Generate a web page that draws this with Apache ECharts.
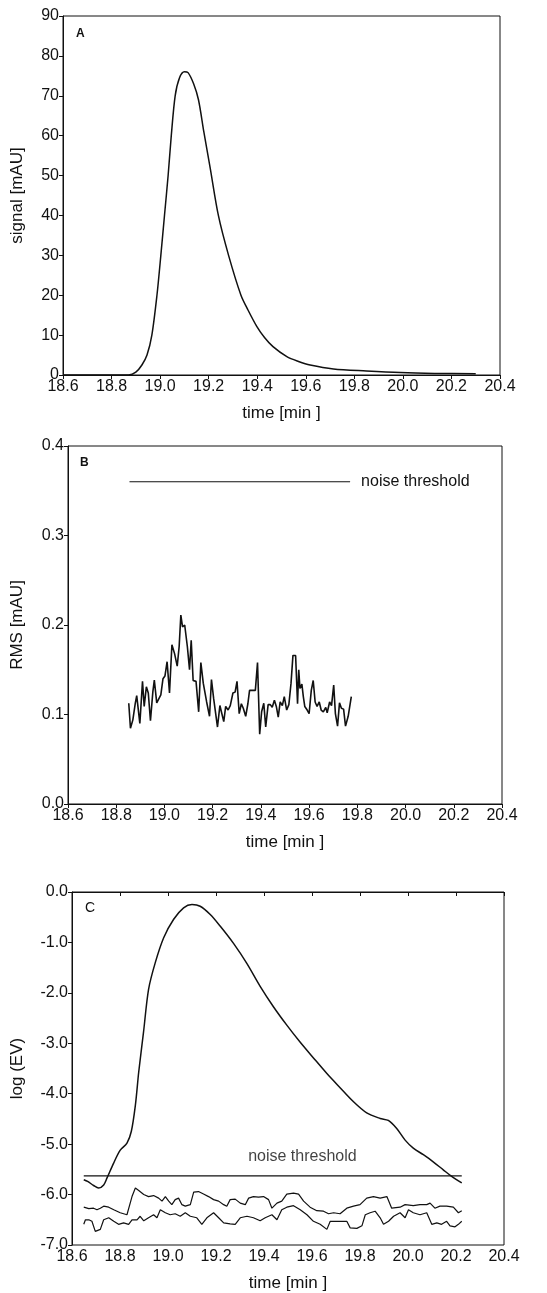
<!DOCTYPE html>
<html><head><meta charset="utf-8">
<script src="https://cdn.jsdelivr.net/npm/echarts@6/dist/echarts.min.js"></script>
<style>html,body{margin:0;padding:0;background:#fff}#c{width:547px;height:1293px}</style>
</head><body><div id="c"></div>
<script>
// ---- Panel A: signal [mAU] vs time [min]
const signalA = [[18.6,0],[18.87,0],[18.9,0.7],[18.925,2.5],[18.946,5],[18.966,10],[18.987,20],[19.003,30],[19.018,40],[19.033,50],[19.046,60],[19.062,70],[19.08,74.5],[19.1,76],[19.115,75.8],[19.138,73],[19.158,69],[19.18,61],[19.206,52],[19.24,40],[19.282,30],[19.333,20],[19.362,16.3],[19.398,12.2],[19.43,9.4],[19.465,7.1],[19.522,4.6],[19.57,3.4],[19.618,2.5],[19.714,1.5],[19.85,1.0],[19.99,0.6],[20.13,0.4],[20.3,0.3]];

// ---- Panel B: RMS [mAU]
const rmsB = [[18.852,0.1125],[18.859,0.0846],[18.869,0.094],[18.879,0.1125],[18.885,0.121],[18.892,0.119],[18.898,0.090],[18.909,0.137],[18.916,0.109],[18.925,0.131],[18.933,0.124],[18.942,0.093],[18.952,0.1255],[18.958,0.1385],[18.968,0.113],[18.976,0.1125],[18.985,0.122],[18.994,0.140],[19.002,0.143],[19.011,0.159],[19.021,0.124],[19.031,0.178],[19.042,0.168],[19.053,0.154],[19.061,0.176],[19.068,0.211],[19.075,0.198],[19.084,0.200],[19.095,0.176],[19.104,0.150],[19.111,0.183],[19.119,0.138],[19.131,0.137],[19.142,0.103],[19.151,0.158],[19.161,0.135],[19.175,0.114],[19.187,0.098],[19.195,0.139],[19.204,0.118],[19.212,0.117],[19.220,0.086],[19.230,0.110],[19.237,0.111],[19.246,0.092],[19.254,0.109],[19.264,0.105],[19.273,0.110],[19.284,0.124],[19.293,0.125],[19.301,0.137],[19.310,0.101],[19.319,0.112],[19.327,0.107],[19.337,0.098],[19.346,0.112],[19.353,0.127],[19.363,0.127],[19.377,0.127],[19.386,0.158],[19.395,0.078],[19.403,0.103],[19.412,0.1125],[19.420,0.086],[19.430,0.111],[19.439,0.111],[19.447,0.108],[19.456,0.116],[19.464,0.109],[19.472,0.097],[19.480,0.114],[19.489,0.110],[19.497,0.120],[19.507,0.105],[19.516,0.111],[19.525,0.135],[19.533,0.166],[19.544,0.166],[19.552,0.112],[19.557,0.150],[19.562,0.129],[19.570,0.134],[19.576,0.120],[19.582,0.109],[19.592,0.105],[19.600,0.101],[19.609,0.127],[19.617,0.138],[19.625,0.114],[19.633,0.109],[19.642,0.114],[19.650,0.105],[19.659,0.103],[19.669,0.108],[19.675,0.102],[19.685,0.114],[19.693,0.110],[19.702,0.133],[19.709,0.101],[19.718,0.087],[19.726,0.113],[19.734,0.107],[19.743,0.106],[19.751,0.087],[19.762,0.098],[19.775,0.120]];
const thresholdB = [[18.855,0.36],[19.77,0.36]];

// ---- Panel C: log (EV)
const logEV = [[18.649,-5.706],[18.665,-5.739],[18.69,-5.82],[18.711,-5.87],[18.732,-5.81],[18.746,-5.67],[18.773,-5.38],[18.801,-5.12],[18.829,-4.98],[18.847,-4.75],[18.864,-4.23],[18.878,-3.57],[18.898,-2.78],[18.919,-1.93],[18.947,-1.40],[18.982,-0.907],[19.023,-0.546],[19.065,-0.316],[19.1,-0.25],[19.134,-0.283],[19.176,-0.447],[19.218,-0.68],[19.273,-1.02],[19.329,-1.42],[19.384,-1.87],[19.44,-2.28],[19.495,-2.64],[19.551,-2.98],[19.606,-3.29],[19.662,-3.60],[19.717,-3.88],[19.771,-4.15],[19.828,-4.38],[19.884,-4.49],[19.918,-4.53],[19.953,-4.69],[19.988,-4.92],[20.022,-5.08],[20.064,-5.21],[20.105,-5.35],[20.147,-5.51],[20.182,-5.64],[20.224,-5.77]];
const noiseUpperC = [[18.649,-6.25],[18.670,-6.28],[18.690,-6.27],[18.704,-6.30],[18.718,-6.27],[18.732,-6.23],[18.753,-6.25],[18.774,-6.30],[18.801,-6.36],[18.829,-6.40],[18.850,-6.04],[18.864,-5.87],[18.878,-5.92],[18.899,-6.00],[18.919,-6.04],[18.940,-6.02],[18.961,-6.07],[18.975,-6.13],[18.989,-6.04],[19.003,-6.13],[19.016,-6.20],[19.030,-6.10],[19.044,-6.07],[19.058,-6.20],[19.072,-6.23],[19.093,-6.20],[19.107,-5.95],[19.127,-5.94],[19.148,-5.99],[19.169,-6.04],[19.190,-6.10],[19.211,-6.13],[19.232,-6.20],[19.245,-6.23],[19.259,-6.10],[19.280,-6.09],[19.301,-6.17],[19.322,-6.20],[19.336,-6.07],[19.356,-6.04],[19.377,-6.05],[19.398,-6.04],[19.419,-6.10],[19.433,-6.27],[19.454,-6.17],[19.474,-6.13],[19.495,-5.99],[19.523,-5.97],[19.544,-5.99],[19.565,-6.13],[19.592,-6.25],[19.620,-6.32],[19.648,-6.33],[19.669,-6.38],[19.690,-6.36],[19.717,-6.38],[19.745,-6.27],[19.773,-6.23],[19.800,-6.20],[19.828,-6.07],[19.856,-6.04],[19.884,-6.07],[19.912,-6.04],[19.932,-6.27],[19.967,-6.25],[19.988,-6.20],[20.022,-6.22],[20.050,-6.20],[20.078,-6.20],[20.092,-6.17],[20.112,-6.27],[20.133,-6.23],[20.161,-6.23],[20.189,-6.25],[20.210,-6.36],[20.224,-6.32]];
const noiseLowerC = [[18.649,-6.59],[18.656,-6.50],[18.670,-6.50],[18.683,-6.53],[18.697,-6.73],[18.718,-6.69],[18.732,-6.50],[18.753,-6.46],[18.774,-6.53],[18.794,-6.59],[18.815,-6.56],[18.836,-6.59],[18.850,-6.50],[18.871,-6.50],[18.884,-6.43],[18.899,-6.52],[18.919,-6.46],[18.940,-6.40],[18.954,-6.46],[18.968,-6.30],[18.989,-6.36],[19.009,-6.40],[19.030,-6.38],[19.051,-6.43],[19.072,-6.36],[19.093,-6.43],[19.120,-6.46],[19.141,-6.59],[19.162,-6.46],[19.190,-6.36],[19.211,-6.46],[19.232,-6.56],[19.259,-6.58],[19.280,-6.59],[19.301,-6.46],[19.329,-6.43],[19.356,-6.46],[19.384,-6.52],[19.405,-6.46],[19.433,-6.40],[19.454,-6.50],[19.474,-6.30],[19.495,-6.25],[19.523,-6.22],[19.551,-6.30],[19.579,-6.40],[19.606,-6.53],[19.634,-6.59],[19.662,-6.69],[19.676,-6.53],[19.704,-6.53],[19.745,-6.53],[19.759,-6.66],[19.787,-6.67],[19.808,-6.62],[19.822,-6.40],[19.842,-6.36],[19.863,-6.33],[19.884,-6.46],[19.898,-6.59],[19.919,-6.53],[19.940,-6.43],[19.967,-6.36],[19.988,-6.46],[20.002,-6.30],[20.022,-6.36],[20.050,-6.40],[20.078,-6.36],[20.099,-6.59],[20.120,-6.56],[20.140,-6.59],[20.161,-6.53],[20.175,-6.62],[20.196,-6.64],[20.210,-6.59],[20.224,-6.53]];
const thresholdC = [[18.649,-5.63],[20.224,-5.63]];
const thresholdLabelC = [[19.56,-5.25]];

const panelLabels = ['A','B','C'];
const xName = 'time [min ]';
const yNames = ['signal [mAU]','RMS [mAU]','log (EV)'];

const FONT = '"Liberation Sans", Arial, Helvetica, sans-serif';
const INK = '#111';

const grids = [
  {left:63, right:47, top:16, height:359},
  {left:68, right:45, top:446, height:358},
  {left:72, right:43, top:892, height:355}
].map(g => Object.assign(g, {show:true, borderColor:INK, borderWidth:1, backgroundColor:'transparent'}));

function xAxis(i){
  return {
    type:'value', gridIndex:i, min:18.6, max:20.4, interval:0.2,
    name:xName, nameLocation:'middle', nameGap:30,
    nameTextStyle:{fontFamily:FONT, fontSize:17, color:INK},
    axisLine:{show:true, lineStyle:{color:INK, width:1}},
    axisTick:{show:true, inside:false, length:4, lineStyle:{color:INK}},
    axisLabel:{fontFamily:FONT, fontSize:16, color:INK, margin:4, formatter:v=>v.toFixed(1)},
    splitLine:{show:false}
  };
}
function yAxis(i, min, max, interval, fmt, gap){
  return {
    type:'value', gridIndex:i, min:min, max:max, interval:interval,
    name:yNames[i], nameLocation:'middle', nameGap:gap, nameRotate:90,
    nameTextStyle:{fontFamily:FONT, fontSize:17, color:INK},
    axisLine:{show:true, lineStyle:{color:INK, width:1}},
    axisTick:{show:true, inside:false, length:4, lineStyle:{color:INK}},
    axisLabel:{fontFamily:FONT, fontSize:16, color:INK, margin:4, formatter:fmt},
    splitLine:{show:false}
  };
}

const lineBase = {type:'line', showSymbol:false, symbol:'none', silent:true, animation:false,
  lineStyle:{color:INK, width:1.5}};

const option = {
  backgroundColor:'#fff',
  animation:false,
  grid: grids,
  title: [
    {text:panelLabels[0], left:71, top:23, textStyle:{fontFamily:FONT, fontSize:12, fontWeight:'bold', color:INK}},
    {text:panelLabels[1], left:75, top:452, textStyle:{fontFamily:FONT, fontSize:12, fontWeight:'bold', color:INK}},
    {text:panelLabels[2], left:80, top:896, textStyle:{fontFamily:FONT, fontSize:14, fontWeight:'normal', color:INK}}
  ],
  xAxis: [xAxis(0), xAxis(1), xAxis(2)],
  yAxis: [
    yAxis(0, 0, 90, 10, v=>String(Math.round(v)), 37),
    yAxis(1, 0, 0.4, 0.1, v=>v.toFixed(1), 42),
    yAxis(2, -7, 0, 1, v=>v.toFixed(1), 46)
  ],
  series: [
    Object.assign({}, lineBase, {xAxisIndex:0, yAxisIndex:0, data:signalA, smooth:0.3}),
    Object.assign({}, lineBase, {xAxisIndex:1, yAxisIndex:1, data:rmsB, lineStyle:{color:INK, width:1.6}}),
    Object.assign({}, lineBase, {xAxisIndex:1, yAxisIndex:1, data:thresholdB, lineStyle:{color:INK, width:1.1},
      endLabel:{show:true, formatter:'noise threshold', distance:11, fontFamily:FONT, fontSize:16, color:INK}}),
    Object.assign({}, lineBase, {xAxisIndex:2, yAxisIndex:2, data:logEV, smooth:0.3}),
    Object.assign({}, lineBase, {xAxisIndex:2, yAxisIndex:2, data:noiseUpperC, lineStyle:{color:INK, width:1.2}}),
    Object.assign({}, lineBase, {xAxisIndex:2, yAxisIndex:2, data:noiseLowerC, lineStyle:{color:INK, width:1.2}}),
    Object.assign({}, lineBase, {xAxisIndex:2, yAxisIndex:2, data:thresholdC, lineStyle:{color:INK, width:1.4}}),
    {type:'scatter', xAxisIndex:2, yAxisIndex:2, data:thresholdLabelC, symbolSize:0, silent:true,
      label:{show:true, position:'inside', formatter:'noise threshold', fontFamily:FONT, fontSize:16, color:INK}}
  ]
};

const chart = echarts.init(document.getElementById('c'), null, {renderer:'canvas', width:547, height:1293});
chart.setOption(option);
</script>
</body></html>
